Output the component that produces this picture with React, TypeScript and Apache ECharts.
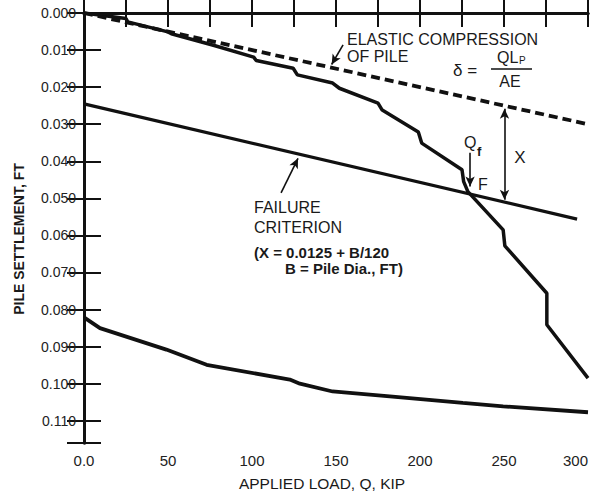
import React, { useEffect, useRef } from "react";
import * as echarts from "echarts";

// Load-settlement test curve
const loadQ = [0, 25, 26, 50, 52, 77, 101, 102.5, 124.5, 127, 148, 152, 175, 177.5, 199, 201, 225, 226, 228.5, 249.5, 250.5, 275.5, 275.5, 300];
const settlement = [0, 0.0015, 0.0024, 0.0051, 0.0056, 0.0087, 0.0119, 0.0128, 0.0149, 0.0167, 0.0189, 0.0203, 0.0243, 0.0262, 0.0321, 0.0351, 0.0423, 0.0455, 0.0482, 0.0585, 0.0628, 0.0756, 0.0841, 0.0985];

// Elastic compression of pile (dashed)
const elasticQ = [0, 300];
const elasticS = [0, 0.030];

// Failure criterion line
const failureQ = [0, 293.5];
const failureS = [0.0245, 0.0556];

// Lower curve
const lowerQ = [0, 9.5, 49, 73, 122.5, 128.5, 148, 182, 225.5, 249.5, 300];
const lowerS = [0.0821, 0.0850, 0.0908, 0.0949, 0.0989, 0.1000, 0.1021, 0.1034, 0.1052, 0.1061, 0.1077];

const xTicks = [0, 50, 100, 150, 200, 250, 300];
const yTickLabels = ["0.000", "0.010", "0.020", "0.030", "0.040", "0.050", "0.060", "0.070", "0.080", "0.090", "0.100", "0.110"];

const zip = (a: number[], b: number[]) => a.map((v, i) => [v, b[i]]);

const FONT = "'Liberation Sans', Arial, Helvetica, sans-serif";
const INK = "#111";

export default function App() {
  const ref = useRef<HTMLDivElement>(null);
  useEffect(() => {
    if (!ref.current) return;
    const chart = echarts.init(ref.current, undefined, { renderer: "svg" });
    const txt = (text: string, x: number, y: number, size: number, extra: any = {}) => ({
      type: "text",
      x,
      y,
      style: {
        text,
        fill: "#1a1a1a",
        font: `${extra.bold ? "bold " : ""}${size}px ${FONT}`,
        textAlign: extra.align || "left",
        textVerticalAlign: "middle",
      },
      rotation: extra.rotation || 0,
      z: 10,
    });
    const yLabel = (v: number) => {
      const k = Math.round(v * 100);
      if (Math.abs(v * 100 - k) > 1e-6) return "";
      return yTickLabels[k] ?? "";
    };
    const xLabel = (v: number) => {
      if (xTicks.indexOf(v) < 0) return "";
      return v === 0 ? "0.0" : String(v);
    };
    const axisLine = { show: true, lineStyle: { color: INK, width: 3 } };
    const arrowLine = (a: number[], b: number[], symbols: string[]) => [
      { coord: a, symbol: symbols[0] },
      { coord: b, symbol: symbols[1] },
    ];
    chart.setOption({
      animation: false,
      backgroundColor: "#fff",
      grid: { left: 84, right: 5, top: 13, bottom: 48 },
      xAxis: [
        {
          type: "value",
          min: 0,
          max: 300,
          interval: 25,
          position: "bottom",
          axisLine,
          axisTick: { show: true, inside: true, length: 15, lineStyle: { color: INK, width: 2 } },
          splitLine: { show: false },
          axisLabel: {
            formatter: xLabel,
            fontSize: 15,
            fontFamily: FONT,
            color: "#222",
            margin: 10,
            alignMaxLabel: "right",
          },
        },
        {
          type: "value",
          min: 0,
          max: 300,
          interval: 25,
          position: "top",
          axisLine,
          axisTick: { show: true, inside: true, length: 14, lineStyle: { color: INK, width: 2 } },
          splitLine: { show: false },
          axisLabel: { show: false },
        },
      ],
      yAxis: [
        {
          type: "value",
          min: 0,
          max: 0.116,
          interval: 0.01,
          inverse: true,
          position: "left",
          axisLine,
          axisTick: { show: true, inside: true, length: 17, lineStyle: { color: INK, width: 2 } },
          splitLine: { show: false },
          axisLabel: { formatter: yLabel, fontSize: 14, fontFamily: FONT, color: "#222", margin: 8 },
        },
        {
          type: "value",
          min: 0,
          max: 0.116,
          interval: 0.01,
          inverse: true,
          position: "right",
          axisLine,
          axisTick: { show: true, inside: true, length: 17, lineStyle: { color: INK, width: 2 } },
          splitLine: { show: false },
          axisLabel: { show: false },
        },
      ],
      series: [
        {
          type: "line",
          data: zip(loadQ, settlement),
          showSymbol: false,
          lineStyle: { color: INK, width: 3.5 },
          z: 3,
        },
        {
          type: "line",
          data: zip(elasticQ, elasticS),
          showSymbol: false,
          lineStyle: { color: INK, width: 3.8, type: [9, 5] },
          z: 3,
        },
        {
          type: "line",
          data: zip(failureQ, failureS),
          showSymbol: false,
          lineStyle: { color: INK, width: 3.2 },
          z: 3,
        },
        {
          type: "line",
          data: zip(lowerQ, lowerS),
          showSymbol: false,
          lineStyle: { color: INK, width: 3.8 },
          z: 3,
        },
        {
          type: "line",
          data: [],
          markLine: {
            silent: true,
            symbolSize: [7, 10],
            label: { show: false },
            lineStyle: { color: INK, width: 1.6, type: "solid" },
            data: [
              arrowLine([229.8, 0.0377], [229.8, 0.0468], ["none", "arrow"]),
              arrowLine([250.3, 0.0258], [250.3, 0.0504], ["arrow", "arrow"]),
              arrowLine([117.3, 0.0485], [127.4, 0.0392], ["none", "arrow"]),
              arrowLine([154.2, 0.0086], [147.4, 0.0139], ["none", "arrow"]),
            ],
          },
        },
      ],
      graphic: [
        txt("ELASTIC COMPRESSION", 347, 39, 16),
        txt("OF PILE", 347, 56, 16),
        txt("δ =", 453, 70, 17),
        { type: "line", shape: { x1: 491, y1: 69, x2: 532, y2: 69 }, style: { stroke: INK, lineWidth: 1.5 }, z: 10 },
        txt("QL", 497, 57, 16),
        txt("P", 519, 60, 10),
        txt("AE", 510, 81, 16, { align: "center" }),
        txt("X", 520, 157, 17, { align: "center" }),
        txt("Q", 464, 142, 16),
        txt("f", 477, 151, 13, { bold: true }),
        txt("F", 478, 184, 16),
        txt("FAILURE", 254, 207, 16),
        txt("CRITERION", 254, 227, 16),
        txt("(X = 0.0125 + B/120", 254, 252, 15, { bold: true }),
        txt("B = Pile Dia., FT)", 285, 268, 15, { bold: true }),
        txt("PILE SETTLEMENT, FT", 19, 239, 14, { bold: true, align: "center", rotation: Math.PI / 2 }),
        txt("APPLIED LOAD, Q, KIP", 322, 483, 15.5, { align: "center" }),
      ],
    });
    return () => chart.dispose();
  }, []);
  return (
    <div
      ref={ref}
      style={{ position: "fixed", left: 0, top: 0, width: 593, height: 491, background: "#fff" }}
    />
  );
}
